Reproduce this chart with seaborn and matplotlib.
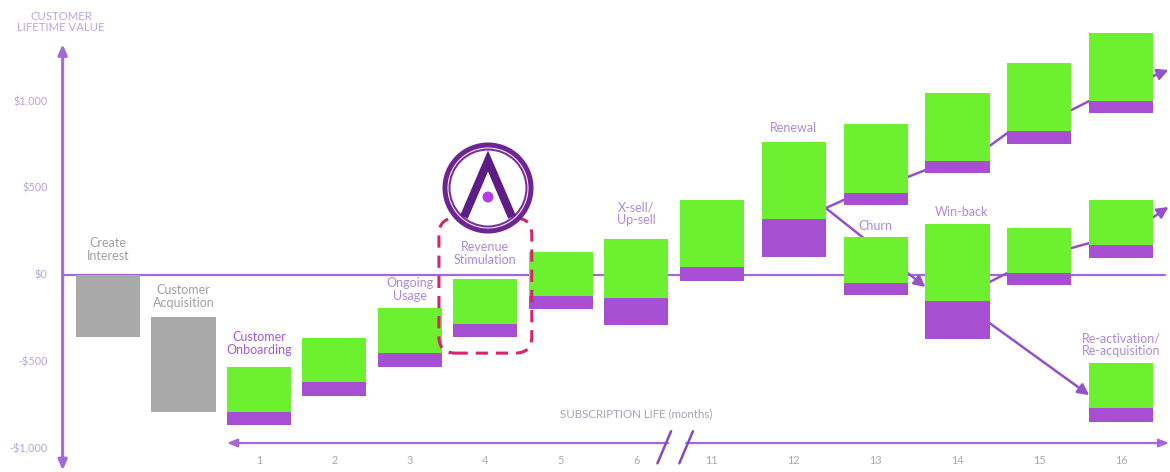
import numpy as np
import pandas as pd
import matplotlib
matplotlib.use("Agg")
import matplotlib.pyplot as plt
from matplotlib.patches import FancyBboxPatch, Circle
from matplotlib.lines import Line2D
import seaborn as sns

# ---------------- data ----------------
setup_labels = ["Create\nInterest", "Customer\nAcquisition"]
setup_top = [0, -240]
setup_bottom = [-355, -790]

months = ["1", "2", "3", "4", "5", "6", "11", "12", "13", "14", "15", "16"]

# single path, months 1-12
core_top = [-530, -363, -190, -23, 133, 207, 432, 767]
core_mid = [-790, -617, -450, -282, -121, -133, 46, 323]
core_bottom = [-865, -697, -530, -357, -196, -288, -35, 104]

# renewal branch, months 13-16
renew_top = [870, 1049, 1222, 1395]
renew_mid = [473, 657, 830, 1003]
renew_bottom = [403, 588, 755, 934]

# churn / win-back branch, months 13-16
winback_top = [219, 294, 271, 432]
winback_mid = [-46, -150, 12, 173]
winback_bottom = [-115, -369, -58, 98]

# re-activation branch, month 16
reacq_top = [-507]
reacq_mid = [-767]
reacq_bottom = [-847]

# connector lines between branches (values at the gaps)
renew_path = [386, 432, 565, 605, 744, 818, 951, 1003, 1147, 1182]
churn_path = [386, -69]
winback_path = [-40, 12, 156, 184, 334, 392]
reacq_path = [-277, -692]

y_ticks = [1000, 500, 0, -500, -1000]
y_tick_labels = ["$1,000", "$500", "$0", "-$500", "-$1,000"]

# ---------------- style ----------------
GREEN = "#6cf030"
PURPLE = "#a64fd2"
GREY = "#a9a9a9"
AXIS = "#a468d8"
LINK = "#9452c8"
LABEL = "#ad8ad8"
BOX = "#d6246e"
BAR_W = 0.85

sns.set_theme(style="white")
plt.rcParams["font.family"] = ["Lato", "DejaVu Sans"]

fig = plt.figure(figsize=(11.7, 4.72), dpi=100)
ax = fig.add_axes([0, 0, 1, 1])

# slot positions: a tighter run before the axis break, a wider one after
pos = np.concatenate([np.arange(8, dtype=float), 8.0 + 1.085 * np.arange(6)])
month_pos = pos[2:]


def segment(x, lo, hi, color):
    frame = pd.DataFrame({"x": [x], "h": [hi - lo]})
    sns.barplot(data=frame, x="x", y="h", native_scale=True, width=BAR_W,
                color=color, saturation=1, bottom=lo, errorbar=None,
                linewidth=0, zorder=4, ax=ax)


def stacked(x, lo, mid, hi):
    segment(x, lo, mid, PURPLE)
    segment(x, mid, hi, GREEN)


for x, hi, lo in zip(pos[:2], setup_top, setup_bottom):
    segment(x, lo, hi, GREY)
for x, hi, mid, lo in zip(pos[2:10], core_top, core_mid, core_bottom):
    stacked(x, lo, mid, hi)
for x, hi, mid, lo in zip(pos[10:], renew_top, renew_mid, renew_bottom):
    stacked(x, lo, mid, hi)
for x, hi, mid, lo in zip(pos[10:], winback_top, winback_mid, winback_bottom):
    stacked(x, lo, mid, hi)
for x, hi, mid, lo in zip(pos[13:], reacq_top, reacq_mid, reacq_bottom):
    stacked(x, lo, mid, hi)

XMIN, XMAX = -1.43, 14.07
YMIN, YMAX = -1135, 1585
half = BAR_W / 2
arrow_kw = dict(arrowstyle="-|>,head_length=0.55,head_width=0.28",
                color=LINK, lw=1.8, shrinkA=0, shrinkB=0)


def gap_xs(slots, tail=True):
    xs = []
    for i, s in enumerate(slots):
        if i > 0:
            xs.append(pos[s] - half)
        xs.append(pos[s] + half)
    if tail:
        xs.append(XMAX - 0.02)
    return xs


def polyline(xs, ys):
    ax.plot(xs[:-1], ys[:-1], color=LINK, lw=1.8, zorder=2,
            solid_capstyle="round")
    ax.annotate("", xy=(xs[-1], ys[-1]), xytext=(xs[-2], ys[-2]),
                arrowprops=arrow_kw, zorder=2)


# renewal path through months 12-16
polyline(gap_xs([9, 10, 11, 12, 13]), renew_path)
# churn line from month 12 into the win-back bar
polyline([pos[9] + half, pos[11] - half], churn_path)
# win-back path through months 14-16
polyline(gap_xs([11, 12, 13]), winback_path)
# re-acquisition line
polyline([pos[11] + half, pos[13] - half], reacq_path)

# zero line and vertical value axis
y_axis_x = -0.6
ax.plot([y_axis_x, 14.0], [0, 0], color=AXIS, lw=1.6, zorder=1)
ax.annotate("", xy=(y_axis_x, 1330), xytext=(y_axis_x, -1125),
            arrowprops=dict(arrowstyle="<|-|>,head_length=0.5,head_width=0.22",
                            color=AXIS, lw=2.2, shrinkA=0, shrinkB=0))
for v, t in zip(y_ticks, y_tick_labels):
    ax.text(y_axis_x - 0.2, v, t, ha="right", va="center", fontsize=7.8,
            color="#b9a2dc")
ax.text(-0.62, 1458, "CUSTOMER\nLIFETIME VALUE", ha="center", va="center",
        multialignment="center", fontsize=8.2, color="#bea4e2",
        linespacing=1.0)

# subscription-life axis with a break
time_y = -968
brk_l, brk_r = 7.42, 7.78
ax.annotate("", xy=(pos[2] - half, time_y), xytext=(brk_l, time_y),
            arrowprops=dict(arrowstyle="-|>,head_length=0.5,head_width=0.2",
                            color=AXIS, lw=1.6, shrinkA=0, shrinkB=0))
ax.annotate("", xy=(XMAX - 0.01, time_y), xytext=(brk_r - 0.12, time_y),
            arrowprops=dict(arrowstyle="-|>,head_length=0.5,head_width=0.2",
                            color=AXIS, lw=1.6, shrinkA=0, shrinkB=0))
for cx in (brk_l - 0.05, brk_r - 0.12):
    ax.plot([cx - 0.09, cx + 0.09], [-1085, -900], color="#8848c0", lw=1.8,
            zorder=3)
for x, m in zip(month_pos, months):
    ax.text(x, -1066, m, ha="center", va="center", fontsize=7.8,
            color="#aaaaaa")
ax.text(7.0, -801, "SUBSCRIPTION LIFE (months)", ha="center", va="center",
        fontsize=8.3, color="#ab9fbf")

# stage annotations
stage_notes = [
    (pos[0], 150, setup_labels[0], "#a0a0a0"),
    (pos[1], -121, setup_labels[1], "#a0a0a0"),
    (pos[2], -392, "Customer\nOnboarding", "#a45ad8"),
    (pos[4], -86, "Ongoing\nUsage", LABEL),
    (pos[5], 127, "Revenue\nStimulation", LABEL),
    (pos[7], 352, "X-sell/\nUp-sell", LABEL),
    (pos[9], 847, "Renewal", LABEL),
    (pos[10], 282, "Churn", LABEL),
    (pos[11] + 0.05, 363, "Win-back", LABEL),
    (pos[13], -403, "Re-activation/\nRe-acquisition", LABEL),
]
for x, y, t, c in stage_notes:
    ax.text(x, y, t, ha="center", va="center", fontsize=9, color=c,
            linespacing=1.1, zorder=5)

# dashed highlight round month 4
box_w, box_top, box_bot = 1.23, 328, -450
px_per_x = fig.get_figwidth() * fig.dpi / (XMAX - XMIN)
px_per_y = fig.get_figheight() * fig.dpi / (YMAX - YMIN)
hl = FancyBboxPatch((pos[5] - box_w / 2, box_bot), box_w, box_top - box_bot,
                    boxstyle="round,pad=0,rounding_size=0.22",
                    mutation_aspect=px_per_x / px_per_y,
                    fill=False, edgecolor=BOX, lw=2.2,
                    linestyle=(0, (4, 2.6)), zorder=6)
ax.add_patch(hl)

ax.set_xlim(XMIN, XMAX)
ax.set_ylim(YMIN, YMAX)
ax.axis("off")

# round badge above the highlight
W, H = 1170, 472
cx, cy, r = 488, 188, 50
lax = fig.add_axes([(cx - r) / W, (H - cy - r) / H, 2 * r / W, 2 * r / H])
lax.set_xlim(-r, r)
lax.set_ylim(-r, r)
lax.axis("off")
lax.add_patch(Circle((0, 0), 43, facecolor="white", edgecolor="#6d2494",
                     lw=3.6, zorder=1))
lax.add_patch(Circle((0, 0), 38.5, facecolor="none", edgecolor="#7a2fa0",
                     lw=1.5, zorder=2))
lax.add_line(Line2D([-24, 0, 24], [-29, 27, -29], color="#5e1d86", lw=6,
                    solid_joinstyle="miter", solid_capstyle="butt", zorder=3))
lax.add_patch(Circle((0, -9), 5.5, facecolor="#b23fe2", edgecolor="none",
                     zorder=4))

fig.savefig("out.png", dpi=100, facecolor="white")
